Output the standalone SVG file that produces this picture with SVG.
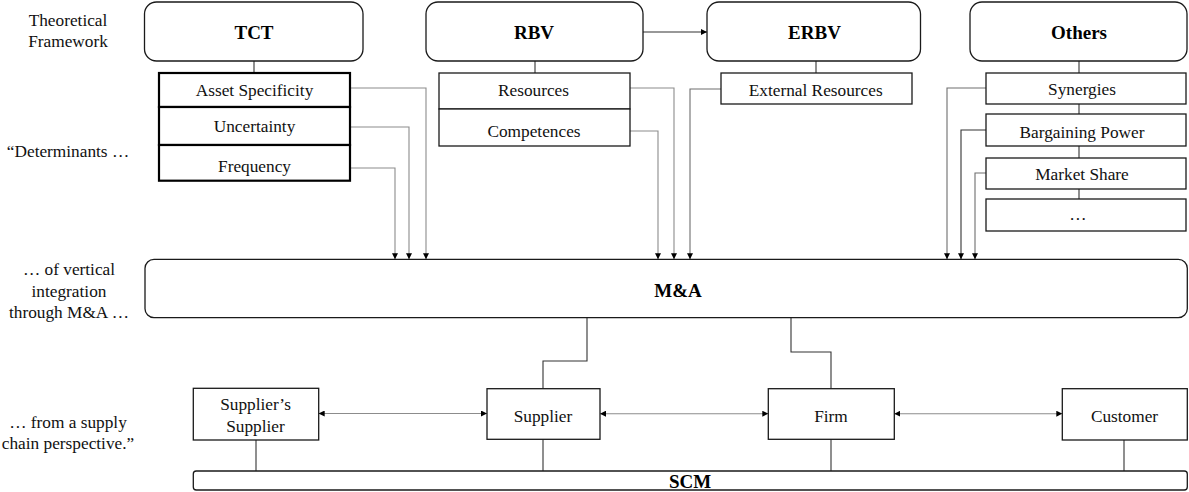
<svg xmlns="http://www.w3.org/2000/svg" width="1189" height="492" viewBox="0 0 1189 492">
  <style>
    .bg { fill: #ffffff; }
    .head { fill: #ffffff; stroke: #1a1a1a; stroke-width: 1.3; }
    .box { fill: #ffffff; stroke: #1a1a1a; stroke-width: 1.3; }
    .thick { fill: #ffffff; stroke: #000000; stroke-width: 2.2; }
    text { font-family: 'Liberation Serif', 'Times New Roman', Times, serif; }
    .lbl { font-size: 17.3px; fill: #111111; }
    .ttl { font-size: 19px; font-weight: bold; fill: #000000; }
    .side { font-size: 17.3px; fill: #111111; text-anchor: middle; }
    .mid { text-anchor: middle; }
    .wire { fill: none; stroke: #6e6e6e; stroke-width: 1.1; }
    .pale { fill: none; stroke: #8c8c8c; stroke-width: 1.1; }
    .link { fill: none; stroke: #333333; stroke-width: 1.1; }
    .arr { marker-end: url(#tip); }
    .both { marker-start: url(#tip); marker-end: url(#tip); }
  </style>
  <defs>
    <marker id="tip" viewBox="0 0 10 10" refX="10" refY="5" markerUnits="userSpaceOnUse" markerWidth="6" markerHeight="6" orient="auto-start-reverse">
      <path d="M0,0 L10,5 L0,10 z" fill="#000000"/>
    </marker>
  </defs>

  <rect class="bg" x="0" y="0" width="1189" height="492"/>

  <!-- row captions on the left -->
  <g id="captions">
    <text class="side" x="68" y="26">Theoretical</text>
    <text class="side" x="68" y="46.7">Framework</text>
    <text class="side" x="68" y="156.7">“Determinants …</text>
    <text class="side" x="69" y="275">… of vertical</text>
    <text class="side" x="69" y="296.7">integration</text>
    <text class="side" x="69" y="318.3">through M&amp;A …</text>
    <text class="side" x="68" y="428.3">… from a supply</text>
    <text class="side" x="68" y="449.3">chain perspective.”</text>
  </g>

  <!-- connectors -->
  <g id="connectors">
    <line class="link" x1="254" y1="61" x2="254" y2="73"/>
    <polyline class="pale arr" points="350,88 426,88 426,259.3"/>
    <polyline class="pale arr" points="350,127 409,127 409,259.3"/>
    <polyline class="pale arr" points="350,168 395,168 395,259.3"/>

    <line class="link" x1="535" y1="61" x2="535" y2="73"/>
    <line class="link" x1="535" y1="105" x2="535" y2="113"/>
    <polyline class="pale arr" points="630,88 674,88 674,259.3"/>
    <polyline class="pale arr" points="630,131 658,131 658,259.3"/>

    <line class="link arr" x1="643" y1="32" x2="707" y2="32"/>
    <line class="link" x1="816" y1="61" x2="816" y2="73"/>
    <polyline class="wire arr" points="721,89 690,89 690,259.3"/>

    <line class="link" x1="1079" y1="61" x2="1079" y2="73"/>
    <line class="link" x1="1079" y1="104" x2="1079" y2="114"/>
    <line class="link" x1="1079" y1="146" x2="1079" y2="158"/>
    <line class="link" x1="1079" y1="189" x2="1079" y2="199"/>
    <polyline class="wire arr" points="986,88 947,88 947,259.3"/>
    <polyline class="link arr" points="986,130 961,130 961,259.3"/>
    <polyline class="wire arr" points="986,173 975,173 975,259.3"/>

    <polyline class="link" points="587,318 587,361 543,361 543,388.7"/>
    <polyline class="link" points="791,318 791,352 831,352 831,388.7"/>

    <line class="pale both" x1="318.7" y1="413.5" x2="487" y2="413.5"/>
    <line class="pale both" x1="600" y1="413.7" x2="768.3" y2="413.7"/>
    <line class="pale both" x1="894.3" y1="413.7" x2="1062.3" y2="413.7"/>

    <line class="link" x1="256" y1="440" x2="256" y2="471"/>
    <line class="link" x1="543" y1="439.3" x2="543" y2="471"/>
    <line class="link" x1="831" y1="439.3" x2="831" y2="471"/>
    <line class="link" x1="1124" y1="440" x2="1124" y2="471"/>
  </g>

  <!-- theory headers -->
  <g id="tct">
    <rect class="head" x="144.5" y="2" width="218.5" height="59" rx="12"/>
    <text class="ttl mid" x="254" y="39.3">TCT</text>
  </g>
  <g id="rbv">
    <rect class="head" x="426" y="2" width="217" height="59" rx="12"/>
    <text class="ttl mid" x="534" y="38.5">RBV</text>
  </g>
  <g id="erbv">
    <rect class="head" x="707" y="2" width="213.5" height="59" rx="12"/>
    <text class="ttl mid" x="814.5" y="38.5">ERBV</text>
  </g>
  <g id="others">
    <rect class="head" x="970" y="2" width="217" height="59" rx="12"/>
    <text class="ttl mid" x="1079" y="38.5">Others</text>
  </g>

  <!-- TCT determinants -->
  <g id="asset-specificity">
    <rect class="thick" x="159" y="73" width="191" height="34"/>
    <text class="lbl mid" x="254.5" y="95.5">Asset Specificity</text>
  </g>
  <g id="uncertainty">
    <rect class="thick" x="159" y="107" width="191" height="38"/>
    <text class="lbl mid" x="254.5" y="132.3">Uncertainty</text>
  </g>
  <g id="frequency">
    <rect class="thick" x="159" y="145" width="191" height="35.7"/>
    <text class="lbl mid" x="254.5" y="171.7">Frequency</text>
  </g>

  <!-- RBV / ERBV determinants -->
  <g id="resources">
    <rect class="box" x="439" y="73" width="191" height="36"/>
    <text class="lbl mid" x="533.5" y="95.7">Resources</text>
  </g>
  <g id="competences">
    <rect class="box" x="439" y="109" width="191" height="37"/>
    <text class="lbl mid" x="534" y="137.3">Competences</text>
  </g>
  <g id="external-resources">
    <rect class="box" x="721" y="73" width="191" height="31"/>
    <text class="lbl mid" x="815.7" y="95.7">External Resources</text>
  </g>

  <!-- other determinants -->
  <g id="synergies">
    <rect class="box" x="986" y="73" width="200" height="31"/>
    <text class="lbl mid" x="1082" y="95">Synergies</text>
  </g>
  <g id="bargaining-power">
    <rect class="box" x="986" y="114" width="200" height="32"/>
    <text class="lbl mid" x="1082" y="137.7">Bargaining Power</text>
  </g>
  <g id="market-share">
    <rect class="box" x="986" y="158" width="200" height="31"/>
    <text class="lbl mid" x="1082" y="180">Market Share</text>
  </g>
  <g id="more">
    <rect class="box" x="986" y="199" width="200" height="32"/>
    <text class="lbl mid" x="1078" y="220">…</text>
  </g>

  <!-- M&A band -->
  <g id="ma">
    <rect class="box" x="145" y="259.3" width="1042.3" height="58.4" rx="9"/>
    <text class="ttl mid" x="678" y="297">M&amp;A</text>
  </g>

  <!-- supply chain actors -->
  <g id="suppliers-supplier">
    <rect class="box" x="193.3" y="388.3" width="125.4" height="51.7"/>
    <text class="lbl mid" x="255.5" y="410">Supplier’s</text>
    <text class="lbl mid" x="255.5" y="431.7">Supplier</text>
  </g>
  <g id="supplier">
    <rect class="box" x="487" y="388.7" width="113" height="50.6"/>
    <text class="lbl mid" x="543" y="421.7">Supplier</text>
  </g>
  <g id="firm">
    <rect class="box" x="768.3" y="388.7" width="126" height="50.6"/>
    <text class="lbl mid" x="831" y="421.7">Firm</text>
  </g>
  <g id="customer">
    <rect class="box" x="1062.3" y="388.7" width="125" height="51.3"/>
    <text class="lbl mid" x="1124.5" y="421.7">Customer</text>
  </g>

  <!-- SCM band -->
  <g id="scm">
    <rect class="box" x="193.3" y="471" width="994" height="19" rx="3"/>
    <text class="ttl mid" x="690" y="488.3">SCM</text>
  </g>
</svg>
